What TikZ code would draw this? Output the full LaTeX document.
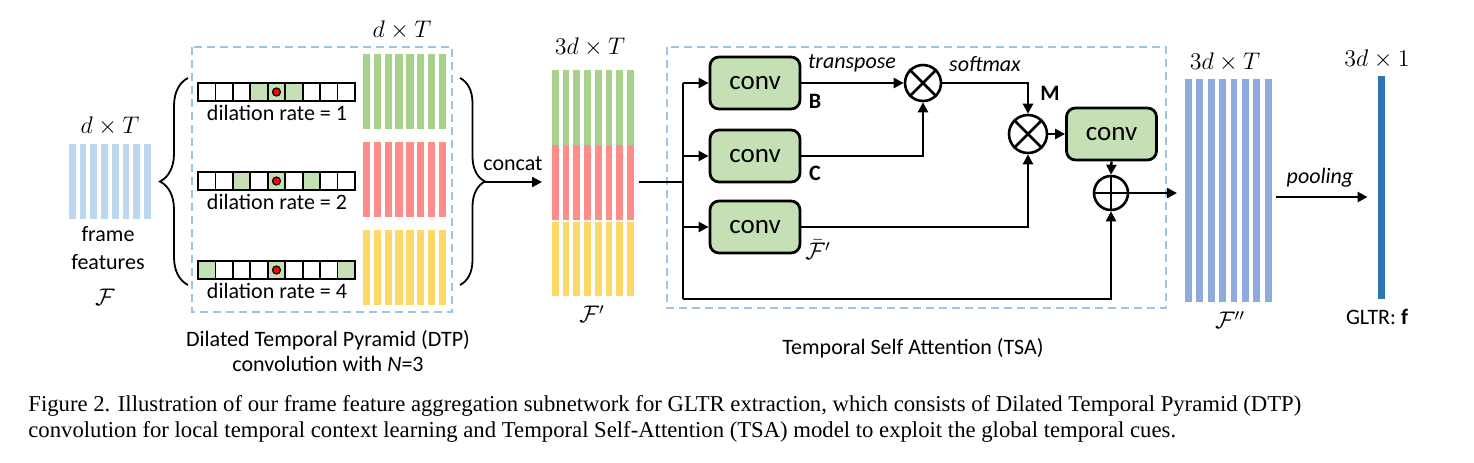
\documentclass[tikz,border=0pt]{standalone}
\usepackage{fontspec}
\setmainfont{Carlito}
\newfontfamily\capfont{Liberation Serif}
\usetikzlibrary{arrows.meta,decorations.pathreplacing}
\definecolor{fblue}{HTML}{BDD7EE}
\definecolor{bgreen}{HTML}{A9D18E}
\definecolor{bred}{HTML}{FF8B8B}
\definecolor{byellow}{HTML}{FFD966}
\definecolor{bblue}{HTML}{8FAADC}
\definecolor{gltrblue}{HTML}{2E75B6}
\definecolor{dashblue}{HTML}{9DC3E6}
\definecolor{convgreen}{HTML}{C5E0B4}
\newcommand\drawbars[6]{\foreach \i in {0,...,7}{\fill[#6] ({#1+\i*#4},#2) rectangle ++(#5,{#3-#2});}}
\newcommand\kernelrow[2]{%
  \foreach \k in {#2}{\fill[convgreen] ({198+\k*17.44},#1) rectangle ++(17.44,18);}
  \foreach \k in {0,...,8}{\draw[line width=0.9pt] ({198+\k*17.44},#1) rectangle ++(17.44,18);}
  \filldraw[fill=red,draw=black,line width=0.6pt] ({198+4.5*17.44},{#1+9}) circle (2pt);}
\begin{document}
\begin{tikzpicture}[x=0.5pt,y=-0.5pt,
  lbl/.style={font=\fontsize{11}{13}\selectfont, inner sep=0pt},
  mth/.style={font=\fontsize{11.5}{13}\selectfont, inner sep=0pt},
  grp/.style={inner sep=0pt, outer sep=0pt, draw=none},
  convbox/.style={draw, line width=1.4pt, fill=convgreen, rounded corners=4.5pt, minimum width=45pt, minimum height=26pt, inner sep=0pt, font=\fontsize{13.5}{15}\selectfont},
  opcirc/.style={draw, circle, line width=1.3pt, inner sep=0pt},
  arr/.style={-{Triangle[length=5pt,width=5pt]}, line width=1.2pt},
  ln/.style={line width=1.2pt},
  dashbox/.style={draw=dashblue, line width=1.3pt, dash pattern=on 4pt off 2.5pt}]
\useasboundingbox (0,0) rectangle (1474,462);

% dashed containers
\draw[dashbox] (192,47) rectangle (452,312);
\draw[dashbox] (667,47) rectangle (1166,308);

% frame features
\node[grp, minimum width=40.5pt, minimum height=37.5pt] (F) at (109.5,181.5) {};
\drawbars{69}{144}{219}{10.7}{6.7}{fblue}
\node[mth] (dT1) at (110,126) {$d\times T$};
\node[lbl] (frame) at (108,234) {frame};
\node[lbl] (feat) at (108,262) {features};
\node[mth] (calF) at (105,297) {$\mathcal{F}$};

% braces
\draw[line width=0.9pt, decorate, decoration={brace, amplitude=14pt}] (188,285) -- (188,78);
\draw[line width=0.9pt, decorate, decoration={brace, amplitude=12.5pt}] (460,78) -- (460,285);
\coordinate (rb) at (485,182);

% kernels
\kernelrow{83}{3,4,5}
\kernelrow{172}{2,4,6}
\kernelrow{261}{0,4,8}
\node[lbl] (dr1) at (277,113) {dilation rate = 1};
\node[lbl] (dr2) at (277,202) {dilation rate = 2};
\node[lbl] (dr4) at (277,291) {dilation rate = 4};

% DTP outputs
\drawbars{363}{54}{129}{10.8}{7.3}{bgreen}
\drawbars{363}{142}{217}{10.8}{7.3}{bred}
\drawbars{363}{230}{305}{10.8}{7.3}{byellow}
\node[mth] (dT2) at (402,30) {$d\times T$};

\node[lbl] (dtp1) at (328,340) {Dilated Temporal Pyramid (DTP)};
\node[lbl] (dtp2) at (328,364) {convolution with \textit{N}=3};

% concat
\node[grp, minimum width=41pt, minimum height=113pt] (Fp) at (593,183) {};
\drawbars{552}{70}{145}{10.7}{6.7}{bgreen}
\drawbars{552}{145}{220}{10.7}{6.7}{bred}
\drawbars{552}{221.5}{296}{10.7}{6.7}{byellow}
\draw[arr] (rb) -- ([xshift=-5pt]Fp.west |- rb);
\node[lbl] (concat) at (513,164) {concat};
\node[mth] (dT3) at (590,47) {$3d\times T$};
\node[mth] (calFp) at (592,314) {$\mathcal{F}'$};

% TSA
\coordinate (jn) at (683,182);
\coordinate (bot) at (683,299);
\node[convbox] (c1) at (755,83) {conv};
\node[convbox] (c2) at (755,156) {conv};
\node[convbox] (c3) at (755,227) {conv};
\node[convbox] (c4) at (1111.5,134) {conv};
\node[opcirc, minimum size=18pt] (ot1) at (923,83) {};
\node[opcirc, minimum size=19pt] (ot2) at (1028,134) {};
\node[opcirc, minimum size=17pt] (op) at (1111,193) {};
\draw[line width=1.3pt] (ot1.45) -- (ot1.225) (ot1.135) -- (ot1.315);
\draw[line width=1.3pt] (ot2.45) -- (ot2.225) (ot2.135) -- (ot2.315);
\draw[line width=1.3pt] (op.north) -- (op.south) (op.west) -- (op.east);

\draw[ln] ([xshift=2.5pt]Fp.east |- jn) -- (jn);
\draw[ln] (jn |- c1) -- (bot);
\draw[arr] (jn |- c1) -- (c1.west);
\draw[arr] (jn |- c2) -- (c2.west);
\draw[arr] (jn |- c3) -- (c3.west);
\draw[arr] (bot) -| (op.south);
\draw[arr] (c1.east) -- (ot1.west);
\draw[arr] (c2.east) -| (ot1.south);
\draw[arr] (ot1.east) -| (ot2.north);
\draw[arr] (c3.east) -| (ot2.south);
\draw[arr] (ot2.east) -- (c4.west);
\draw[arr] (c4.south) -- (op.north);

\node[lbl, font=\fontsize{11}{13}\selectfont\itshape] (tr) at (852,63) {transpose};
\node[lbl, font=\fontsize{11}{13}\selectfont\itshape] (sm) at (985,64) {softmax};
\node[lbl, font=\fontsize{11}{13}\selectfont\bfseries] (B) at (815,101) {B};
\node[lbl, font=\fontsize{11}{13}\selectfont\bfseries] (C) at (815,173) {C};
\node[lbl, font=\fontsize{11}{13}\selectfont\bfseries] (M) at (1050,93) {M};
\node[mth] (Fbar) at (818,250) {$\bar{\mathcal{F}}'$};
\node[lbl] (tsa) at (913,348) {Temporal Self Attention (TSA)};

% F''
\node[grp, minimum width=43.5pt, minimum height=111.5pt] (Fpp) at (1228.5,190.5) {};
\drawbars{1185}{79}{302}{11.4}{6.7}{bblue}
\draw[arr] (op.east) -- ([xshift=-4pt]Fpp.west |- op.east);
\node[mth] (dT4) at (1225,62) {$3d\times T$};
\node[mth] (calFpp) at (1230,320) {$\mathcal{F}''$};

% pooling
\node[fill=gltrblue, inner sep=0pt, minimum width=3.5pt, minimum height=111.5pt] (gltr) at (1381.5,187.5) {};
\coordinate (pl) at (1276,197);
\draw[arr] (pl) -- ([xshift=-5pt]gltr.west |- pl);
\node[lbl, font=\fontsize{11}{13}\selectfont\itshape] (pool) at (1320,178) {pooling};
\node[mth] (d1) at (1377,59) {$3d\times 1$};
\node[lbl] (gl) at (1377,317) {GLTR: \textbf{f}};

% caption
\node[anchor=west, inner sep=0pt, font=\capfont\fontsize{11.35}{13}\selectfont] (cap1) at (28,406) {Figure 2. Illustration of our frame feature aggregation subnetwork for GLTR extraction, which consists of Dilated Temporal Pyramid (DTP)};
\node[anchor=west, inner sep=0pt, font=\capfont\fontsize{11.35}{13}\selectfont] (cap2) at (28,432) {convolution for local temporal context learning and Temporal Self-Attention (TSA) model to exploit the global temporal cues.};
\end{tikzpicture}
\end{document}
